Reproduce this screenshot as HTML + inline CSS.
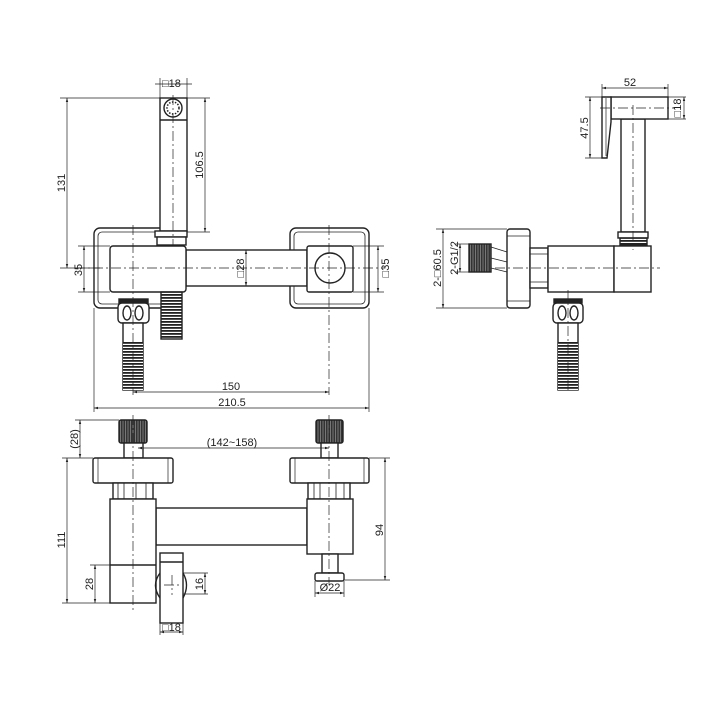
<!DOCTYPE html>
<html><head><meta charset="utf-8"><style>
html,body{margin:0;padding:0;background:#fff}
svg{display:block}
text{font-family:"Liberation Sans",sans-serif;font-size:11px;fill:#222}
</style></head><body>
<svg width="712" height="712" viewBox="0 0 712 712" xmlns="http://www.w3.org/2000/svg">
<defs>
<pattern id="hat" width="4" height="3" patternUnits="userSpaceOnUse"><rect width="4" height="3" fill="#fff"/><rect width="4" height="1.8" fill="#222"/></pattern>
<pattern id="kn" width="2.5" height="2.5" patternUnits="userSpaceOnUse"><rect width="2.5" height="2.5" fill="#333"/><rect width="1" height="2.5" fill="#777"/></pattern>
<marker id="a" viewBox="0 0 10 10" refX="10" refY="5" markerWidth="6" markerHeight="6" orient="auto-start-reverse"><path d="M0,2L10,5L0,8z" fill="#222"/></marker>
</defs>
<g stroke="#222" fill="none" stroke-width="1.4">
<rect x="94" y="228" width="80" height="80" rx="6"/>
<rect x="98" y="232" width="72" height="72" rx="4" stroke-width="0.8"/>
<rect x="290" y="228" width="79" height="80" rx="6"/>
<rect x="294" y="232" width="71" height="72" rx="4" stroke-width="0.8"/>
<rect x="186" y="250" width="121" height="36" fill="#fff"/>
<rect x="110" y="246" width="76" height="46" rx="3" fill="#fff"/>
<rect x="307" y="246" width="46" height="46" rx="2" fill="#fff"/>
<circle cx="330" cy="268" r="15"/>
<rect x="160" y="98" width="27" height="133" fill="#fff"/>
<line x1="160" y1="120" x2="187" y2="120"/>
<circle cx="173" cy="108" r="9"/>
<circle cx="173" cy="108" r="6" stroke-dasharray="1.5 1.5" stroke-width="1.5"/>
<rect x="155" y="231" width="32" height="6" fill="#fff"/>
<rect x="157" y="237" width="29" height="8" fill="#fff"/>
<rect x="119" y="299" width="29" height="4" fill="#222"/>
<rect x="118" y="303" width="31" height="20" rx="4" fill="#fff"/>
<ellipse cx="127" cy="313" rx="4" ry="7"/><ellipse cx="139" cy="313" rx="4" ry="7"/>
<rect x="123" y="323" width="20" height="67" fill="#fff"/>
<rect x="123" y="342" width="20" height="48" fill="url(#hat)" stroke="none"/>
<rect x="161" y="292" width="21" height="47" fill="url(#hat)"/>
<g stroke-width="0.7" stroke-dasharray="10 3 2 3">
<line x1="75" y1="268" x2="385" y2="268"/>
<line x1="133" y1="225" x2="133" y2="395"/>
<line x1="329" y1="225" x2="329" y2="395"/>
<line x1="173" y1="95" x2="173" y2="245"/>
</g>
<g stroke-width="0.7">
<line x1="60" y1="98" x2="160" y2="98"/><line x1="60" y1="268" x2="100" y2="268"/>
<line x1="67" y1="98" x2="67" y2="268" marker-start="url(#a)" marker-end="url(#a)"/>
<line x1="78" y1="246" x2="110" y2="246"/><line x1="78" y1="292" x2="110" y2="292"/>
<line x1="84" y1="246" x2="84" y2="292" marker-start="url(#a)" marker-end="url(#a)"/>
<line x1="187" y1="98" x2="210" y2="98"/><line x1="187" y1="232" x2="210" y2="232"/>
<line x1="205" y1="98" x2="205" y2="232" marker-start="url(#a)" marker-end="url(#a)"/>
<line x1="160" y1="78" x2="160" y2="98"/><line x1="187" y1="78" x2="187" y2="98"/>
<line x1="155" y1="84" x2="192" y2="84"/>
<line x1="246" y1="250" x2="246" y2="286" marker-start="url(#a)" marker-end="url(#a)"/>
<line x1="353" y1="246" x2="384" y2="246"/><line x1="353" y1="292" x2="384" y2="292"/>
<line x1="378" y1="246" x2="378" y2="292" marker-start="url(#a)" marker-end="url(#a)"/>
<line x1="133" y1="392" x2="329" y2="392" marker-start="url(#a)" marker-end="url(#a)"/>
<line x1="94" y1="308" x2="94" y2="412"/><line x1="369" y1="308" x2="369" y2="412"/>
<line x1="94" y1="408" x2="369" y2="408" marker-start="url(#a)" marker-end="url(#a)"/>
</g>
<rect x="507" y="229" width="23" height="79" rx="3" fill="#fff"/>
<line x1="507" y1="236" x2="530" y2="236" stroke-width="0.7"/><line x1="507" y1="301" x2="530" y2="301" stroke-width="0.7"/>
<rect x="530" y="248" width="18" height="40" fill="#fff"/>
<line x1="530" y1="254" x2="548" y2="254" stroke-width="0.7"/><line x1="530" y1="282" x2="548" y2="282" stroke-width="0.7"/>
<rect x="548" y="246" width="66" height="46" fill="#fff"/>
<rect x="614" y="246" width="37" height="46" fill="#fff"/>
<rect x="621" y="119" width="24" height="113" fill="#fff"/>
<rect x="618" y="232" width="30" height="6" fill="#fff"/>
<rect x="620" y="238" width="27" height="7" fill="url(#hat)"/>
<rect x="611" y="97" width="57" height="22" fill="#fff"/>
<path d="M611,97 L602,97 L602,158 L607,158 Q609,140 611,122 Z" fill="#fff"/>
<line x1="606" y1="98" x2="606" y2="156" stroke-width="0.7"/>
<rect x="469" y="244" width="22" height="28" fill="url(#kn)"/>
<path d="M491,247 L507,252 M491,258 L507,262 M491,268 L507,272" stroke-width="0.8"/>
<rect x="554" y="299" width="28" height="4" fill="#222"/>
<rect x="553" y="303" width="30" height="20" rx="4" fill="#fff"/>
<ellipse cx="562" cy="313" rx="4" ry="7"/><ellipse cx="574" cy="313" rx="4" ry="7"/>
<rect x="558" y="323" width="20" height="67" fill="#fff"/>
<rect x="558" y="342" width="20" height="48" fill="url(#hat)" stroke="none"/>
<g stroke-width="0.7" stroke-dasharray="10 3 2 3">
<line x1="495" y1="268" x2="660" y2="268"/>
<line x1="568" y1="290" x2="568" y2="392"/>
<line x1="633" y1="105" x2="633" y2="250"/>
<line x1="600" y1="108" x2="675" y2="108"/>
</g>
<g stroke-width="0.7">
<line x1="436" y1="229" x2="507" y2="229"/><line x1="436" y1="308" x2="507" y2="308"/>
<line x1="443" y1="229" x2="443" y2="308" marker-start="url(#a)" marker-end="url(#a)"/>
<line x1="455" y1="244" x2="469" y2="244"/><line x1="455" y1="272" x2="469" y2="272"/>
<line x1="460" y1="244" x2="460" y2="272" marker-start="url(#a)" marker-end="url(#a)"/>
<line x1="602" y1="84" x2="602" y2="97"/><line x1="668" y1="84" x2="668" y2="97"/>
<line x1="602" y1="88" x2="668" y2="88" marker-start="url(#a)" marker-end="url(#a)"/>
<line x1="585" y1="97" x2="602" y2="97"/><line x1="585" y1="158" x2="602" y2="158"/>
<line x1="590" y1="97" x2="590" y2="158" marker-start="url(#a)" marker-end="url(#a)"/>
<line x1="668" y1="97" x2="686" y2="97"/><line x1="668" y1="119" x2="686" y2="119"/>
<line x1="684" y1="97" x2="684" y2="119" marker-start="url(#a)" marker-end="url(#a)"/>
</g>
<rect x="119" y="420" width="28" height="23" rx="2" fill="url(#kn)"/>
<rect x="316" y="420" width="27" height="23" rx="2" fill="url(#kn)"/>
<rect x="124" y="443" width="19" height="15" fill="#fff"/>
<rect x="321" y="443" width="17" height="15" fill="#fff"/>
<rect x="93" y="458" width="80" height="25" rx="2" fill="#fff"/>
<line x1="98" y1="458" x2="98" y2="483" stroke-width="0.7"/><line x1="168" y1="458" x2="168" y2="483" stroke-width="0.7"/>
<rect x="290" y="458" width="79" height="25" rx="2" fill="#fff"/>
<line x1="295" y1="458" x2="295" y2="483" stroke-width="0.7"/><line x1="364" y1="458" x2="364" y2="483" stroke-width="0.7"/>
<rect x="113" y="483" width="40" height="16" fill="#fff"/>
<path d="M118,483V499M124,483V499M136,483V499M146,483V499" stroke-width="0.8"/>
<rect x="308" y="483" width="42" height="16" fill="#fff"/>
<path d="M314,483V499M320,483V499M336,483V499M344,483V499" stroke-width="0.8"/>
<rect x="156" y="508" width="151" height="37" fill="#fff"/>
<rect x="110" y="499" width="46" height="104" fill="#fff"/>
<line x1="110" y1="565" x2="156" y2="565"/>
<rect x="307" y="499" width="46" height="55" fill="#fff"/>
<rect x="322" y="554" width="16" height="19" fill="#fff"/>
<rect x="315" y="573" width="29" height="8" rx="2" fill="#fff"/>
<rect x="160" y="553" width="23" height="70" fill="#fff"/>
<line x1="160" y1="562" x2="183" y2="562"/>
<path d="M160,573 Q151,585 160,598 M183,573 Q190,585 183,598"/>
<g stroke-width="0.7" stroke-dasharray="10 3 2 3">
<line x1="133" y1="415" x2="133" y2="610"/>
<line x1="329" y1="415" x2="329" y2="585"/>
<line x1="164" y1="585" x2="180" y2="585"/><line x1="172" y1="575" x2="172" y2="595"/>
</g>
<g stroke-width="0.7">
<line x1="75" y1="420" x2="119" y2="420"/><line x1="62" y1="458" x2="93" y2="458"/>
<line x1="80" y1="420" x2="80" y2="458" marker-start="url(#a)" marker-end="url(#a)"/>
<line x1="62" y1="603" x2="110" y2="603"/>
<line x1="67" y1="458" x2="67" y2="603" marker-start="url(#a)" marker-end="url(#a)"/>
<line x1="90" y1="565" x2="110" y2="565"/>
<line x1="95" y1="565" x2="95" y2="603" marker-start="url(#a)" marker-end="url(#a)"/>
<line x1="369" y1="458" x2="390" y2="458"/><line x1="344" y1="580" x2="390" y2="580"/>
<line x1="385" y1="458" x2="385" y2="580" marker-start="url(#a)" marker-end="url(#a)"/>
<line x1="138" y1="448" x2="329" y2="448" marker-start="url(#a)" marker-end="url(#a)"/>
<line x1="183" y1="573" x2="208" y2="573"/><line x1="183" y1="594" x2="208" y2="594"/>
<line x1="205" y1="573" x2="205" y2="594" marker-start="url(#a)" marker-end="url(#a)"/>
<line x1="315" y1="581" x2="315" y2="597"/><line x1="344" y1="581" x2="344" y2="597"/>
<line x1="315" y1="593" x2="344" y2="593" marker-start="url(#a)" marker-end="url(#a)"/>
<line x1="160" y1="623" x2="160" y2="635"/><line x1="183" y1="623" x2="183" y2="635"/>
<line x1="160" y1="632" x2="183" y2="632" marker-start="url(#a)" marker-end="url(#a)"/>
</g>
</g>
<text x="162" y="87">□18</text>
<text transform="translate(65,183) rotate(-90)" text-anchor="middle">131</text>
<text transform="translate(82,270) rotate(-90)" text-anchor="middle">35</text>
<text transform="translate(203,165) rotate(-90)" text-anchor="middle">106.5</text>
<text transform="translate(244,268) rotate(-90)" text-anchor="middle">□28</text>
<text transform="translate(389,268) rotate(-90)" text-anchor="middle">□35</text>
<text x="231" y="390" text-anchor="middle">150</text>
<text x="232" y="406" text-anchor="middle">210.5</text>
<text x="630" y="86" text-anchor="middle">52</text>
<text transform="translate(588,128) rotate(-90)" text-anchor="middle">47.5</text>
<text transform="translate(681,108) rotate(-90)" text-anchor="middle">□18</text>
<text transform="translate(441,268) rotate(-90)" text-anchor="middle">2-□60.5</text>
<text transform="translate(458,258) rotate(-90)" text-anchor="middle">2-G1/2</text>
<text transform="translate(78,439) rotate(-90)" text-anchor="middle">(28)</text>
<text x="232" y="446" text-anchor="middle">(142~158)</text>
<text transform="translate(65,540) rotate(-90)" text-anchor="middle">111</text>
<text transform="translate(93,584) rotate(-90)" text-anchor="middle">28</text>
<text transform="translate(383,530) rotate(-90)" text-anchor="middle">94</text>
<text transform="translate(203,584) rotate(-90)" text-anchor="middle">16</text>
<text x="330" y="591" text-anchor="middle">Ø22</text>
<text x="162" y="631">□18</text>
</svg>
</body></html>
